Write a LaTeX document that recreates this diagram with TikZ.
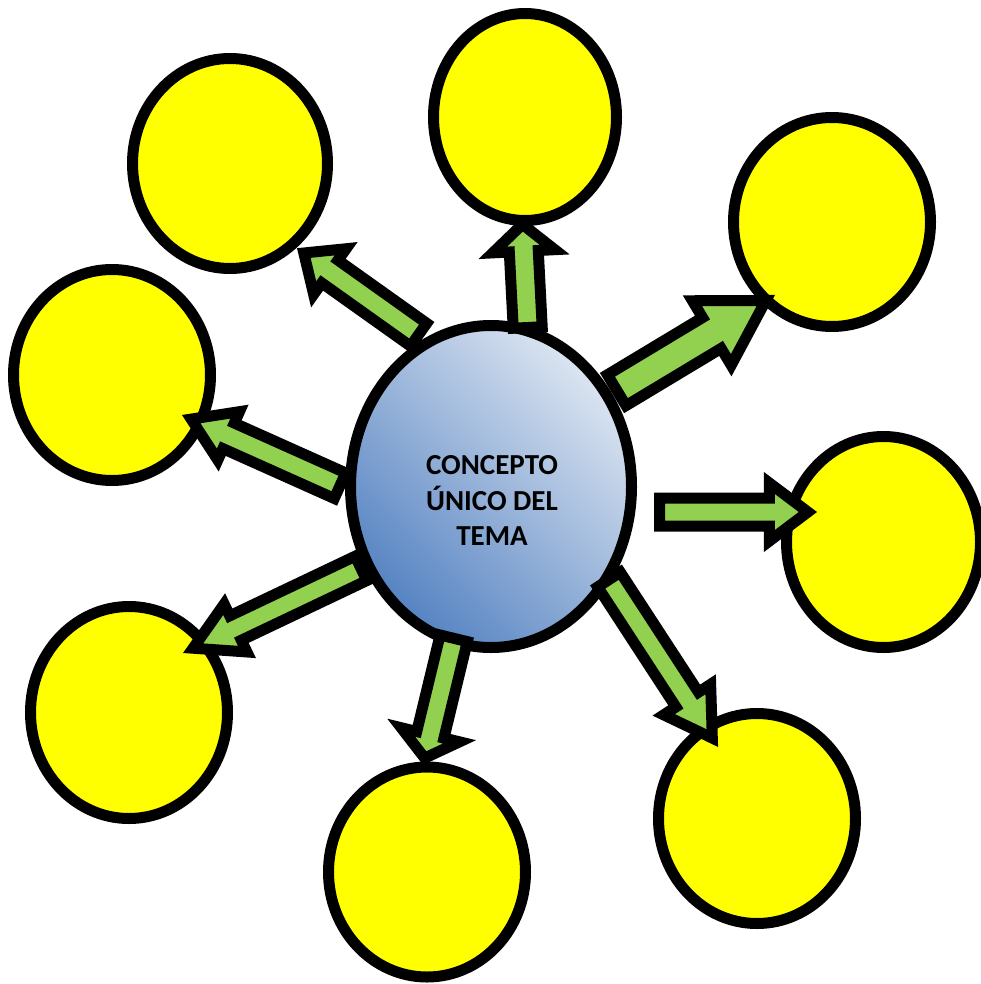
\documentclass[tikz,border=0pt]{standalone}
\usepackage{fontspec}
\setmainfont{Carlito}
\usetikzlibrary{calc,shapes.geometric}
\definecolor{sunyellow}{HTML}{FFFF00}
\definecolor{leafgreen}{HTML}{92D050}
\definecolor{bluedark}{HTML}{5583C2}
\definecolor{bluelight}{HTML}{DCE5F1}
% #1 tail, #2 tip, #3 shaft half width, #4 head half width, #5 head length
\newcommand\blockarrow[5]{%
  \coordinate (ab) at ($(#2)!#5!(#1)$);
  \draw[arrowbody] ($(#1)!#3!90:(#2)$) -- ($(ab)!#3!90:(#2)$) -- ($(ab)!#4!90:(#2)$)
    -- (#2) -- ($(ab)!#4!-90:(#2)$) -- ($(ab)!#3!-90:(#2)$) -- ($(#1)!#3!-90:(#2)$) -- cycle;}
\begin{document}
\begin{tikzpicture}[x=1pt,y=-1pt,
  bubble/.style={ellipse, draw=black, fill=sunyellow, line width=11pt, inner sep=0pt},
  arrowbody/.style={draw=black, fill=leafgreen, line width=11pt, line join=miter, miter limit=10}]
\useasboundingbox (0,0) rectangle (980,984);
% outer circles
\node[bubble, minimum width=195pt, minimum height=210pt] (n1) at (230,163.5) {};
\node[bubble, minimum width=183pt, minimum height=207pt] (n2) at (525,117) {};
\node[bubble, minimum width=197pt, minimum height=209pt] (n3) at (832,222) {};
\node[bubble, minimum width=197pt, minimum height=211pt] (n4) at (112,375) {};
\node[bubble, minimum width=194pt, minimum height=211pt] (n5) at (883.5,542) {};
\node[bubble, minimum width=197pt, minimum height=212pt] (n6) at (129,712.5) {};
\node[bubble, minimum width=197pt, minimum height=210pt] (n7) at (427,872) {};
\node[bubble, minimum width=197pt, minimum height=210pt] (n8) at (757,818.5) {};
% central concept
\node[ellipse, draw=black, line width=11pt, top color=bluelight, bottom color=bluedark,
      shading angle=-45, minimum width=281pt, minimum height=322pt, inner sep=0pt]
      (core) at (491,486.5) {};
\node[font=\bfseries\fontsize{29}{35.5}\selectfont, align=center, inner sep=0pt, text=black]
      (lbl) at (492,500.5) {CONCEPTO\\ÚNICO DEL\\TEMA};
% arrow end points
\coordinate (t1) at (418.6,334.7); \coordinate (h1) at (303.8,253);
\coordinate (t2) at (527.7,327.5); \coordinate (h2) at (522.4,224.3);
\coordinate (t3) at (616.7,390.2); \coordinate (h3) at (765.8,300.5);
\coordinate (t4) at (659.5,512);   \coordinate (h4) at (807.9,512);
\coordinate (t5) at (609,579.6);   \coordinate (h5) at (712.3,738.1);
\coordinate (t6) at (453.7,638.3); \coordinate (h6) at (424.7,758.1);
\coordinate (t7) at (340,485.7);   \coordinate (h7) at (191.2,419.1);
\coordinate (t8) at (361,568.4);   \coordinate (h8) at (193.1,648.2);
% arrows
\blockarrow{t1}{h1}{14pt}{28pt}{32pt}
\blockarrow{t2}{h2}{14.5pt}{31pt}{27pt}
\blockarrow{t3}{h3}{18pt}{37.6pt}{63pt}
\blockarrow{t4}{h4}{14pt}{29pt}{38.5pt}
\blockarrow{t5}{h5}{13.5pt}{28pt}{46pt}
\blockarrow{t6}{h6}{14pt}{30pt}{24pt}
\blockarrow{t7}{h7}{14pt}{26.5pt}{41pt}
\blockarrow{t8}{h8}{13.5pt}{26.5pt}{47pt}
\end{tikzpicture}
\end{document}
